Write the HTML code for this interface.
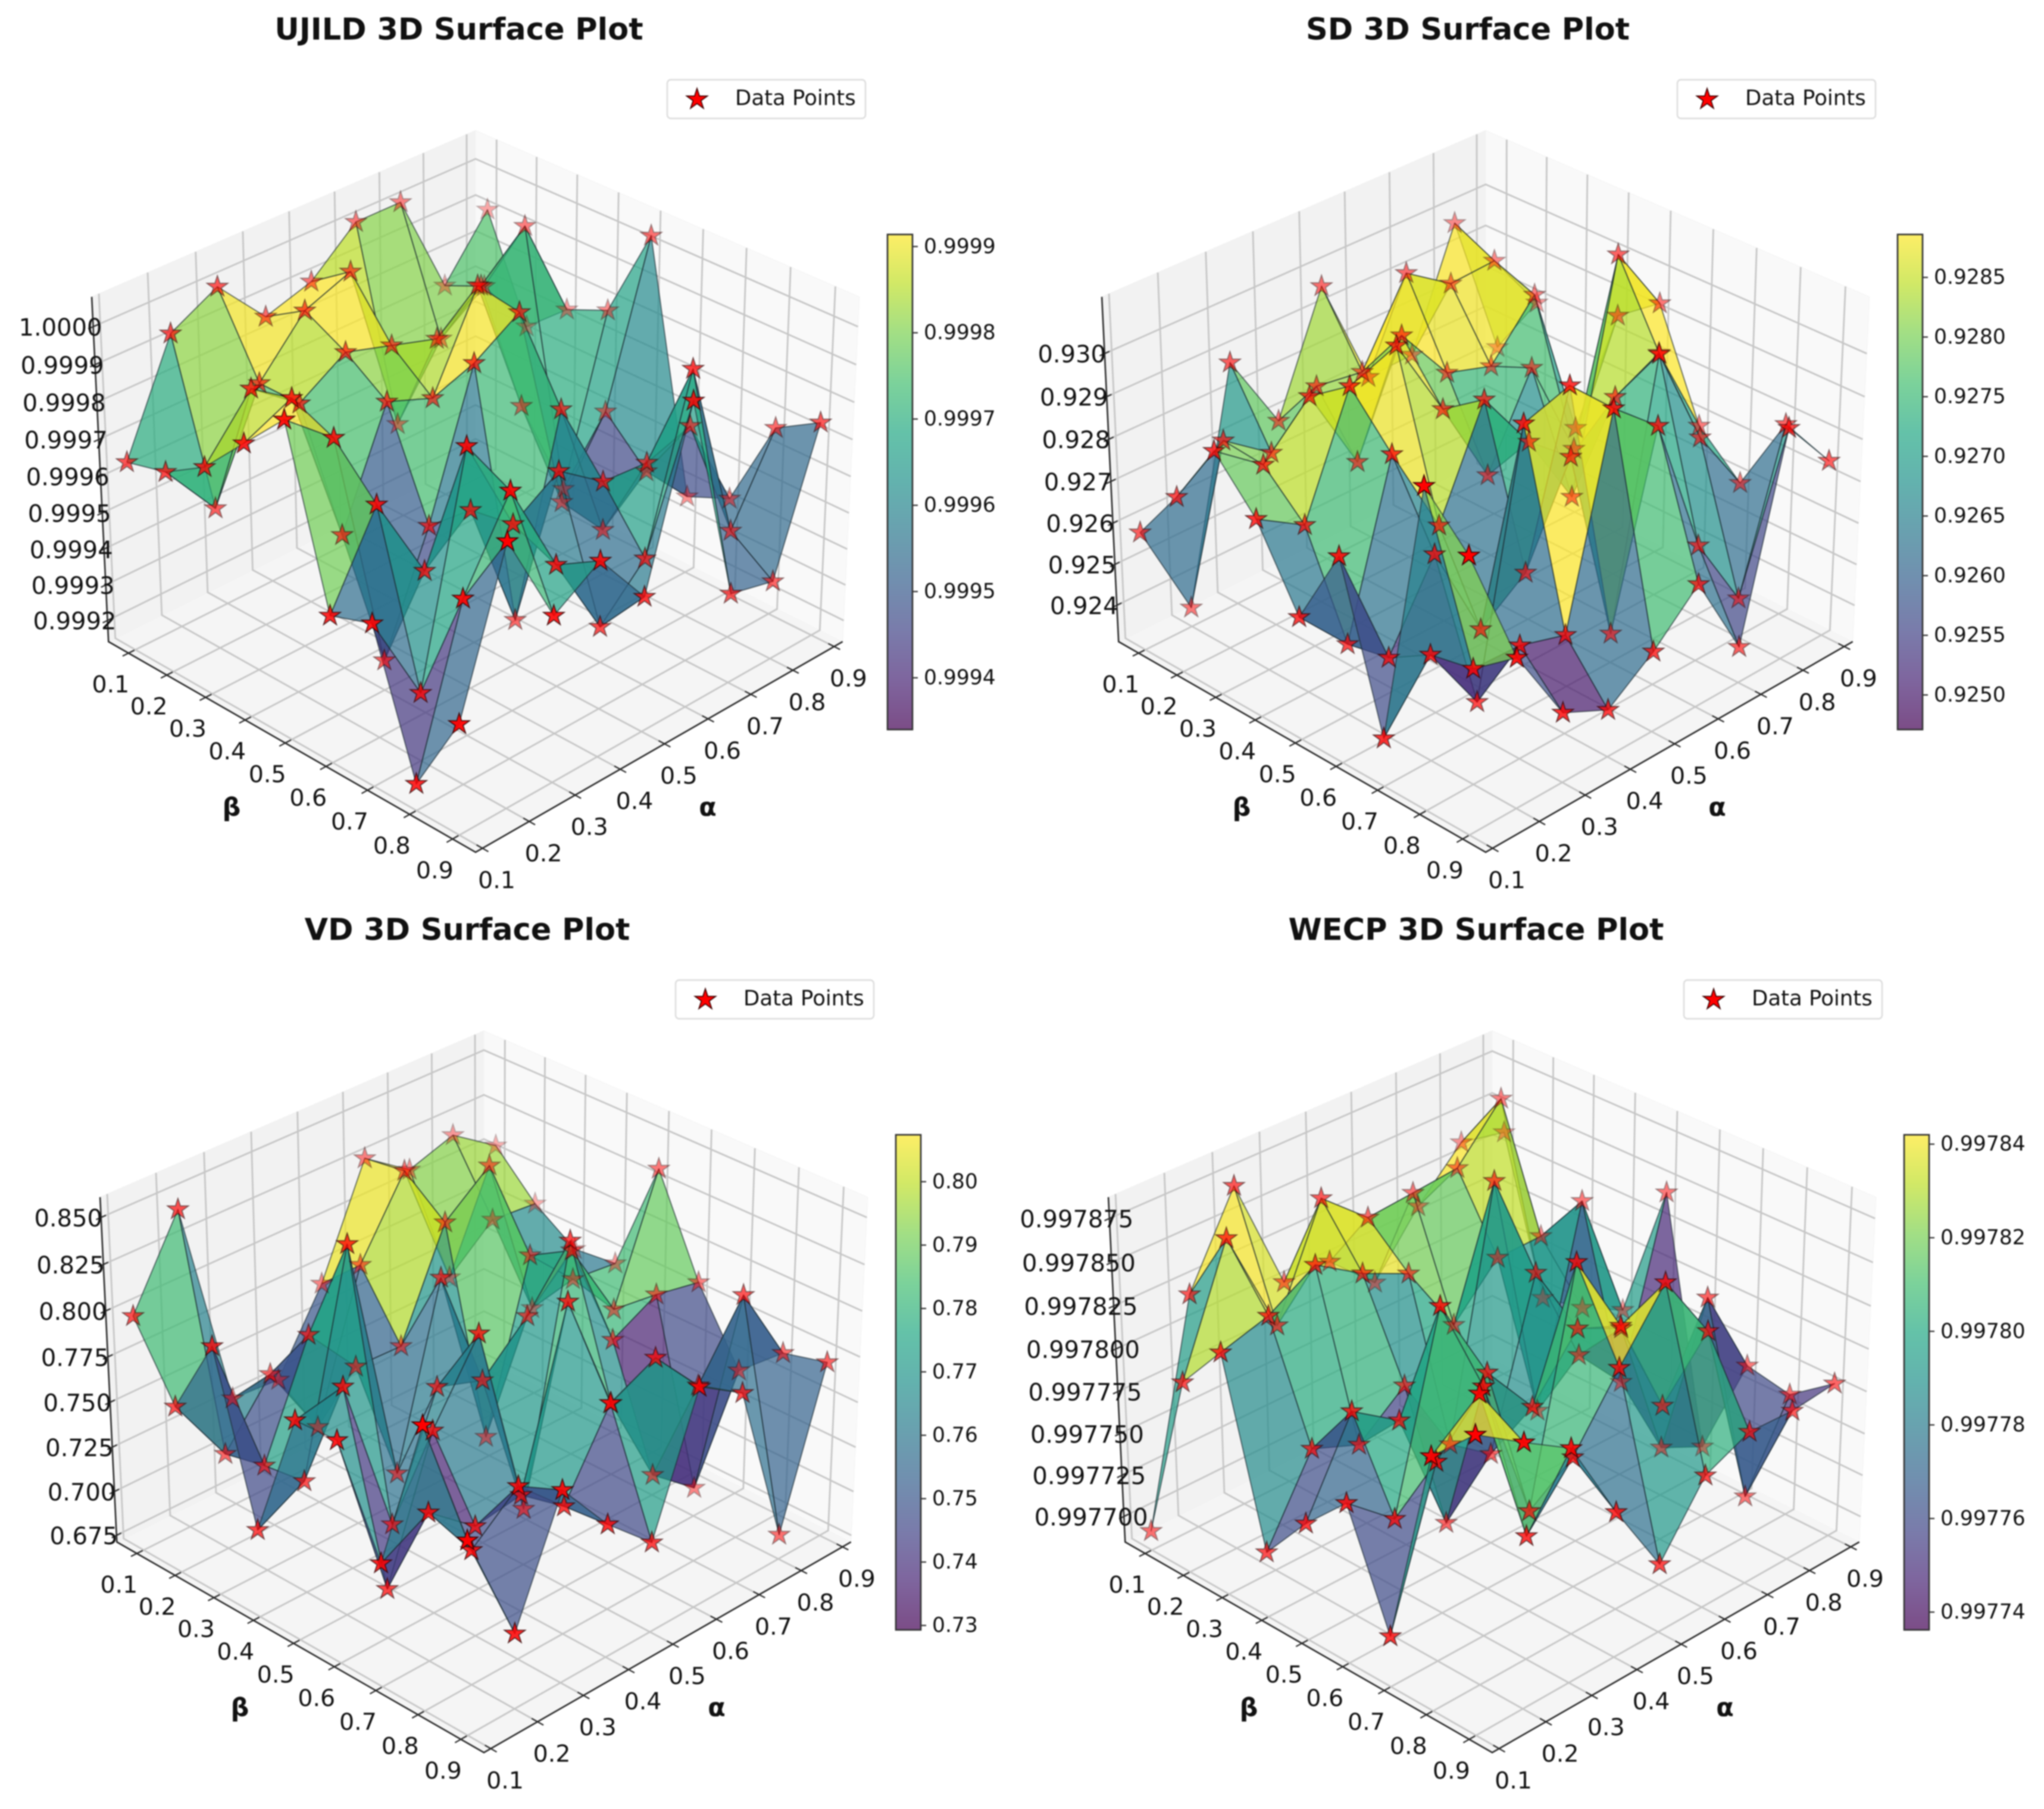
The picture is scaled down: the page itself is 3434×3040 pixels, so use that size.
<!DOCTYPE html>
<html lang="en">
<head>
<meta charset="utf-8">
<title>3D Surface Plots</title>
<style>
html,body{margin:0;padding:0;background:#fff;}
svg{display:block;filter:blur(1.1px);font-family:"DejaVu Sans","Liberation Sans",sans-serif;}
text{fill:#111;}
.title{font-size:51px;font-weight:bold;text-anchor:middle;dominant-baseline:central;}
.axis-name{font-size:43px;font-weight:bold;text-anchor:middle;dominant-baseline:central;}
</style>
</head>
<body>
<svg id="figure" xmlns="http://www.w3.org/2000/svg" width="3434" height="3040" viewBox="0 0 3434 3040">
<rect x="0" y="0" width="3434" height="3040" fill="#ffffff"/>
<g id="chart-0"></g>
<g id="chart-1"></g>
<g id="chart-2"></g>
<g id="chart-3"></g>
<text class="title" x="771" y="50">UJILD 3D Surface Plot</text>
<text class="title" x="2466" y="50">SD 3D Surface Plot</text>
<text class="title" x="785" y="1563">VD 3D Surface Plot</text>
<text class="title" x="2480" y="1563">WECP 3D Surface Plot</text>
<text class="axis-name" x="389" y="1357">β</text>
<text class="axis-name" x="1189" y="1357">α</text>
<text class="axis-name" x="2086" y="1357">β</text>
<text class="axis-name" x="2885" y="1357">α</text>
<text class="axis-name" x="403" y="2870">β</text>
<text class="axis-name" x="1204" y="2870">α</text>
<text class="axis-name" x="2098" y="2870">β</text>
<text class="axis-name" x="2898" y="2870">α</text>
</svg>
<script>
// Shared categories
const alphaTicks = [0.1, 0.2, 0.3, 0.4, 0.5, 0.6, 0.7, 0.8, 0.9];
const betaTicks = [0.1, 0.2, 0.3, 0.4, 0.5, 0.6, 0.7, 0.8, 0.9];
const alphaLimits = [0.0855, 0.9209];
const betaLimits = [0.047, 0.953];

// Each row is one alpha value; each column is one beta value
const ujildValues = [
  [0.99965,0.99968,0.99975,0.99987,0.99999,0.99953,0.99957,0.99921,0.99943],
  [0.99994,0.99952,0.99990,0.99993,0.99988,0.99976,0.99932,0.99963,0.99984],
  [1.00001,0.99980,0.99980,0.99950,0.99922,0.99952,0.99991,0.99985,0.99958],
  [0.99987,0.99994,0.99988,0.99980,0.99952,0.99962,0.99964,0.99959,0.99966],
  [0.99991,0.99999,0.99984,0.99975,0.99990,0.99926,0.99972,0.99936,0.99950],
  [1.00002,0.99951,0.99980,1.00000,0.99998,0.99977,0.99963,0.99948,0.99996],
  [1.00002,0.99969,0.99989,0.99961,0.99940,0.99938,0.99962,0.99993,0.99938],
  [0.99973,0.99978,1.00000,0.99932,0.99959,0.99948,0.99966,0.99943,0.99935],
  [0.99989,0.99961,0.99971,0.99976,1.00002,0.99935,0.99940,0.99965,0.99972]
];
const ujildZLimits = [0.99914, 1.000078];
const ujildZTicks = [0.9992,0.9993,0.9994,0.9995,0.9996,0.9997,0.9998,0.9999,1.0000];
const ujildBarLimits = [0.99934, 0.999914];
const ujildBarTicks = [0.9994,0.9995,0.9996,0.9997,0.9998,0.9999];

const sdValues = [
  [0.92589,0.92723,0.92881,0.92772,0.92595,0.92788,0.92421,0.93052,0.92946],
  [0.92355,0.92803,0.92795,0.92703,0.92475,0.92496,0.92556,0.92577,0.92656],
  [0.92889,0.92721,0.92904,0.92976,0.92865,0.92681,0.92388,0.92573,0.92471],
  [0.92697,0.92828,0.92695,0.93020,0.92643,0.92449,0.92982,0.92540,0.92419],
  [0.92972,0.92811,0.92946,0.92817,0.92888,0.92527,0.93018,0.93013,0.92497],
  [0.92701,0.93000,0.92805,0.92606,0.92735,0.92748,0.92378,0.92919,0.92598],
  [0.92705,0.92925,0.92770,0.92813,0.92550,0.92838,0.92988,0.92583,0.92394],
  [0.92980,0.92932,0.92894,0.92565,0.93083,0.92892,0.92737,0.92402,0.92857],
  [0.92624,0.92780,0.92517,0.92839,0.92915,0.92665,0.92575,0.92765,0.92726]
];
const sdZLimits = [0.9231, 0.9313];
const sdZTicks = [0.924,0.925,0.926,0.927,0.928,0.929,0.930];
const sdBarLimits = [0.92471, 0.92886];
const sdBarTicks = [0.9250,0.9255,0.9260,0.9265,0.9270,0.9275,0.9280,0.9285];

const vdValues = [
  [0.7997,0.7616,0.8059,0.7182,0.7892,0.7904,0.7370,0.8222,0.7739],
  [0.8463,0.7231,0.7284,0.7317,0.7946,0.6975,0.7508,0.7430,0.7112],
  [0.7298,0.7546,0.7875,0.8482,0.7072,0.7699,0.7303,0.7639,0.7739],
  [0.7279,0.7129,0.7578,0.7104,0.7694,0.8099,0.7341,0.7400,0.7424],
  [0.7697,0.7911,0.7569,0.8059,0.7606,0.7017,0.8262,0.7828,0.7195],
  [0.8287,0.8321,0.8139,0.7055,0.7838,0.8363,0.7586,0.7948,0.7906],
  [0.8109,0.7606,0.8342,0.7946,0.8082,0.7697,0.7066,0.7673,0.7747],
  [0.8194,0.7817,0.7423,0.7695,0.7635,0.7828,0.6868,0.8046,0.6845],
  [0.8023,0.7794,0.7641,0.7667,0.8306,0.7777,0.7396,0.7605,0.7667]
];
const vdZLimits = [0.6712, 0.8607];
const vdZTicks = [0.675,0.700,0.725,0.750,0.775,0.800,0.825,0.850];
const vdBarLimits = [0.7293, 0.8074];
const vdBarTicks = [0.73,0.74,0.75,0.76,0.77,0.78,0.79,0.80];

const wecpValues = [
  [0.9976956,0.9977952,0.9978248,0.9977217,0.9977513,0.9977760,0.9977132,0.9978284,0.9978534],
  [0.9978216,0.9978663,0.9978329,0.9977679,0.9978021,0.9977529,0.9977985,0.9978499,0.9978351],
  [0.9978730,0.9978023,0.9978497,0.9977567,0.9977833,0.9978617,0.9978278,0.9977549,0.9978179],
  [0.9978033,0.9978647,0.9978319,0.9977780,0.9977099,0.9978100,0.9977423,0.9977861,0.9977675],
  [0.9978029,0.9978408,0.9978191,0.9977300,0.9977367,0.9977768,0.9978730,0.9978240,0.9977235],
  [0.9977778,0.9978432,0.9977758,0.9978730,0.9978303,0.9978094,0.9978230,0.9978603,0.9977608],
  [0.9978116,0.9978459,0.9978033,0.9977235,0.9977687,0.9977966,0.9977630,0.9978189,0.9977725],
  [0.9978384,0.9978759,0.9978039,0.9978364,0.9977397,0.9977126,0.9978137,0.9977085,0.9977713],
  [0.9978327,0.9977425,0.9977480,0.9977583,0.9978406,0.9976999,0.9977604,0.9977553,0.9977740]
];
const wecpZLimits = [0.9976844, 0.9978870];
const wecpZTicks = [0.997700,0.997725,0.997750,0.997775,0.997800,0.997825,0.997850,0.997875];
const wecpBarLimits = [0.9977362, 0.997842];
const wecpBarTicks = [0.99774,0.99776,0.99778,0.99780,0.99782,0.99784];

const viridis = ['#440154','#482475','#414487','#355f8d','#2a788e','#21918c','#22a884','#44bf70','#7ad151','#bddf26','#fde725'];

const charts = [
  {key:'ujild', values:ujildValues, zLimits:ujildZLimits, zTicks:ujildZTicks, zDigits:4, barLimits:ujildBarLimits, barTicks:ujildBarTicks, barDigits:4, ox:0, oy:0},
  {key:'sd', values:sdValues, zLimits:sdZLimits, zTicks:sdZTicks, zDigits:3, barLimits:sdBarLimits, barTicks:sdBarTicks, barDigits:4, ox:1697, oy:0},
  {key:'vd', values:vdValues, zLimits:vdZLimits, zTicks:vdZTicks, zDigits:3, barLimits:vdBarLimits, barTicks:vdBarTicks, barDigits:2, ox:14, oy:1513},
  {key:'wecp', values:wecpValues, zLimits:wecpZLimits, zTicks:wecpZTicks, zDigits:6, barLimits:wecpBarLimits, barTicks:wecpBarTicks, barDigits:5, ox:1708, oy:1513}
];

const SVGNS = 'http://www.w3.org/2000/svg';
const BOX_XY = 1.1905, BOX_Z = 0.8929, SCALE = 7490;
const ELEV = 30 * Math.PI / 180, AZIM = -45 * Math.PI / 180, DIST = 10;
const eye = [BOX_XY/2 + DIST*Math.cos(ELEV)*Math.cos(AZIM), BOX_XY/2 + DIST*Math.cos(ELEV)*Math.sin(AZIM), BOX_Z/2 + DIST*Math.sin(ELEV)];
const w3 = [Math.cos(ELEV)*Math.cos(AZIM), Math.cos(ELEV)*Math.sin(AZIM), Math.sin(ELEV)];
const u3 = [Math.SQRT1_2, Math.SQRT1_2, 0];
const v3 = [w3[1]*u3[2]-w3[2]*u3[1], w3[2]*u3[0]-w3[0]*u3[2], w3[0]*u3[1]-w3[1]*u3[0]];
function dot(p, q) { return p[0]*q[0] + p[1]*q[1] + p[2]*q[2]; }

function betaScale(v) { return (v - betaLimits[0]) / (betaLimits[1] - betaLimits[0]); }
function alphaScale(v) { return (v - alphaLimits[0]) / (alphaLimits[1] - alphaLimits[0]); }
function zScale(chart, v) { return (v - chart.zLimits[0]) / (chart.zLimits[1] - chart.zLimits[0]); }
// Height used for surface vertices and stars: slight perspective correction mid-range
function markZScale(chart, v) { const f = zScale(chart, v); return f + 0.04 * f * (1 - f); }

// fx, fy, fz are fractions along the beta, alpha and z box edges
function project(chart, fx, fy, fz) {
  const d = [fx*BOX_XY - eye[0], fy*BOX_XY - eye[1], fz*BOX_Z - eye[2]];
  const depth = dot(w3, d);
  return {
    x: chart.ox + 799 + SCALE * dot(u3, d) / (-depth),
    y: chart.oy + 795 - SCALE * dot(v3, d) / (-depth),
    depth: depth
  };
}

function hexChannel(hex, i) { return parseInt(hex.substr(1 + i*2, 2), 16); }
function colorAt(t) {
  const c = Math.max(0, Math.min(1, t)) * (viridis.length - 1);
  const i = Math.min(viridis.length - 2, Math.floor(c));
  const f = c - i;
  const out = [0, 1, 2].map(function (k) {
    return Math.round(hexChannel(viridis[i], k) * (1 - f) + hexChannel(viridis[i+1], k) * f);
  });
  return 'rgb(' + out.join(',') + ')';
}
function svgNode(tag, attrs) {
  const el = document.createElementNS(SVGNS, tag);
  Object.keys(attrs).forEach(function (k) { el.setAttribute(k, attrs[k]); });
  return el;
}
function pointsOf(list) { return list.map(function (p) { return p.x.toFixed(1) + ',' + p.y.toFixed(1); }).join(' '); }
function starPoints(cx, cy, r) {
  const pts = [];
  for (let i = 0; i < 10; i++) {
    const rad = i % 2 === 0 ? r : r * 0.382;
    const ang = -Math.PI / 2 + i * Math.PI / 5;
    pts.push({x: cx + rad * Math.cos(ang), y: cy + rad * Math.sin(ang)});
  }
  return pointsOf(pts);
}

function drawPanes(g, chart) {
  const c = function (x, y, z) { return project(chart, x, y, z); };
  const floor = svgNode('polygon', {points: pointsOf([c(0,0,0), c(1,0,0), c(1,1,0), c(0,1,0)]), fill: '#f5f5f5', stroke: '#f0f0f0', 'stroke-width': 1});
  
  
  g.appendChild(floor);
  const left = svgNode('polygon', {points: pointsOf([c(0,0,0), c(0,1,0), c(0,1,1), c(0,0,1)]), fill: '#f2f2f2', stroke: '#f0f0f0', 'stroke-width': 1});
  
  
  g.appendChild(left);
  const right = svgNode('polygon', {points: pointsOf([c(0,1,0), c(1,1,0), c(1,1,1), c(0,1,1)]), fill: '#f9f9f9', stroke: '#f4f4f4', 'stroke-width': 1});
  
  
  g.appendChild(right);
}

function drawGrid(g, chart) {
  betaTicks.forEach(function (t) {
    const f = betaScale(t);
    const line = svgNode('polyline', {points: pointsOf([project(chart,f,0,0), project(chart,f,1,0), project(chart,f,1,1)]), fill: 'none', stroke: '#c6c6c6', 'stroke-width': 2.8});
    
    
    g.appendChild(line);
  });
  alphaTicks.forEach(function (t) {
    const f = alphaScale(t);
    const line = svgNode('polyline', {points: pointsOf([project(chart,1,f,0), project(chart,0,f,0), project(chart,0,f,1)]), fill: 'none', stroke: '#c6c6c6', 'stroke-width': 2.8});
    
    
    g.appendChild(line);
  });
  chart.zTicks.forEach(function (t) {
    const f = zScale(chart, t);
    const line = svgNode('polyline', {points: pointsOf([project(chart,0,0,f), project(chart,0,1,f), project(chart,1,1,f)]), fill: 'none', stroke: '#c6c6c6', 'stroke-width': 2.8});
    
    
    g.appendChild(line);
  });
}

function drawAxes(g, chart) {
  const axis = svgNode('polyline', {points: pointsOf([project(chart,0,0,1), project(chart,0,0,0), project(chart,1,0,0), project(chart,1,1,0)]), fill: 'none', stroke: '#2a2a2a', 'stroke-width': 2.6});
  
  
  g.appendChild(axis);

  betaTicks.forEach(function (t) {
    const f = betaScale(t);
    const a = project(chart, f, -0.015, 0), b = project(chart, f, 0.015, 0), m = project(chart, f, 0, 0);
    const tick = svgNode('line', {x1: a.x, y1: a.y, x2: b.x, y2: b.y, stroke: '#2a2a2a', 'stroke-width': 2.2});
    
    
    g.appendChild(tick);
    const label = svgNode('text', {x: m.x - 30, y: m.y + 53, 'font-size': 39.5, 'text-anchor': 'middle', 'dominant-baseline': 'central'});
    
    
    label.textContent = t.toFixed(1);
    g.appendChild(label);
  });
  alphaTicks.forEach(function (t) {
    const f = alphaScale(t);
    const a = project(chart, 1.015, f, 0), b = project(chart, 0.985, f, 0), m = project(chart, 1, f, 0);
    const tick = svgNode('line', {x1: a.x, y1: a.y, x2: b.x, y2: b.y, stroke: '#2a2a2a', 'stroke-width': 2.2});
    
    
    g.appendChild(tick);
    const label = svgNode('text', {x: m.x + 24, y: m.y + 54, 'font-size': 39.5, 'text-anchor': 'middle', 'dominant-baseline': 'central'});
    
    
    label.textContent = t.toFixed(1);
    g.appendChild(label);
  });
}

function drawZLabels(g, chart) {
  chart.zTicks.forEach(function (t) {
    const f = zScale(chart, t);
    const a = project(chart, 0, -0.012, f), b = project(chart, 0, 0.012, f), m = project(chart, 0, 0, f);
    const tick = svgNode('line', {x1: a.x, y1: a.y, x2: b.x, y2: b.y, stroke: '#2a2a2a', 'stroke-width': 2.2});
    
    
    g.appendChild(tick);
    const label = svgNode('text', {x: m.x - 55, y: m.y + 2, 'font-size': 40, 'text-anchor': 'middle', 'dominant-baseline': 'central'});
    
    
    label.textContent = t.toFixed(chart.zDigits);
    g.appendChild(label);
  });
}

function drawSurface(g, chart) {
  const faces = [];
  for (let a = 0; a < alphaTicks.length - 1; a++) {
    for (let b = 0; b < betaTicks.length - 1; b++) {
      const corners = [[a,b],[a,b+1],[a+1,b+1],[a+1,b]];
      const pts = corners.map(function (q) {
        return project(chart, betaScale(betaTicks[q[1]]), alphaScale(alphaTicks[q[0]]), markZScale(chart, chart.values[q[0]][q[1]]));
      });
      const mean = corners.reduce(function (s, q) { return s + chart.values[q[0]][q[1]]; }, 0) / 4;
      const depth = pts.reduce(function (s, p) { return s + p.depth; }, 0) / 4;
      faces.push({pts: pts, mean: mean, depth: depth});
    }
  }
  faces.sort(function (p, q) { return p.depth - q.depth; });
  faces.forEach(function (face) {
    const t = (face.mean - chart.barLimits[0]) / (chart.barLimits[1] - chart.barLimits[0]);
    const poly = svgNode('polygon', {points: pointsOf(face.pts), fill: colorAt(t), 'fill-opacity': 0.7, stroke: '#1c2a30', 'stroke-opacity': 0.75, 'stroke-width': 1.6, 'stroke-linejoin': 'round'});
    
    
    g.appendChild(poly);
  });
}

function drawPoints(g, chart) {
  const pts = [];
  alphaTicks.forEach(function (al, a) {
    betaTicks.forEach(function (be, b) {
      pts.push(project(chart, betaScale(be), alphaScale(al), markZScale(chart, chart.values[a][b])));
    });
  });
  const depths = pts.map(function (p) { return p.depth; });
  const lo = Math.min.apply(null, depths), hi = Math.max.apply(null, depths);
  pts.sort(function (p, q) { return p.depth - q.depth; });
  pts.forEach(function (p) {
    const star = svgNode('polygon', {points: starPoints(p.x, p.y, 18.5), fill: '#ff0000', stroke: '#3a0000', 'stroke-width': 1.6, opacity: (0.3 + 0.7 * (p.depth - lo) / (hi - lo)).toFixed(2)});
    
    
    g.appendChild(star);
  });
}

function drawLegend(g, chart) {
  const box = svgNode('rect', {x: chart.ox + 1121, y: chart.oy + 134, width: 333, height: 65, rx: 6, fill: '#ffffff', stroke: '#dcdcdc', 'stroke-width': 2.4});
  
  
  g.appendChild(box);
  const star = svgNode('polygon', {points: starPoints(chart.ox + 1171, chart.oy + 167, 18.5), fill: '#ff0000', stroke: '#3a0000', 'stroke-width': 1.6});
  
  
  g.appendChild(star);
  const label = svgNode('text', {x: chart.ox + 1235, y: chart.oy + 165, 'font-size': 35.5, 'dominant-baseline': 'central'});
  
  
  label.textContent = 'Data Points';
  g.appendChild(label);
}

function drawColorbar(g, chart, index) {
  const left = chart.ox + 1491, right = chart.ox + 1533, top = chart.oy + 394, bottom = chart.oy + 1226;
  const gradId = 'bar-gradient-' + index;
  const grad = svgNode('linearGradient', {id: gradId, x1: 0, y1: 1, x2: 0, y2: 0});
  viridis.forEach(function (col, i) {
    grad.appendChild(svgNode('stop', {offset: i / (viridis.length - 1), 'stop-color': col}));
  });
  g.appendChild(grad);
  const bar = svgNode('rect', {x: left, y: top, width: right - left, height: bottom - top, fill: 'url(#' + gradId + ')', 'fill-opacity': 0.7});
  
  
  g.appendChild(bar);
  const frame = svgNode('rect', {x: left, y: top, width: right - left, height: bottom - top, fill: 'none', stroke: '#333333', 'stroke-width': 2.6});
  
  
  g.appendChild(frame);
  chart.barTicks.forEach(function (t) {
    const y = bottom - (t - chart.barLimits[0]) / (chart.barLimits[1] - chart.barLimits[0]) * (bottom - top);
    const tick = svgNode('line', {x1: right, y1: y, x2: right + 9, y2: y, stroke: '#333333', 'stroke-width': 2.2});
    
    
    g.appendChild(tick);
    const label = svgNode('text', {x: right + 19, y: y, 'font-size': 34.5, 'dominant-baseline': 'central'});
    
    
    label.textContent = t.toFixed(chart.barDigits);
    g.appendChild(label);
  });
}

charts.forEach(function (chart, i) {
  const g = document.getElementById('chart-' + i);
  drawPanes(g, chart);
  drawGrid(g, chart);
  drawAxes(g, chart);
  drawZLabels(g, chart);
  drawSurface(g, chart);
  drawPoints(g, chart);
  drawLegend(g, chart);
  drawColorbar(g, chart, i);
});
</script>
</body>
</html>
